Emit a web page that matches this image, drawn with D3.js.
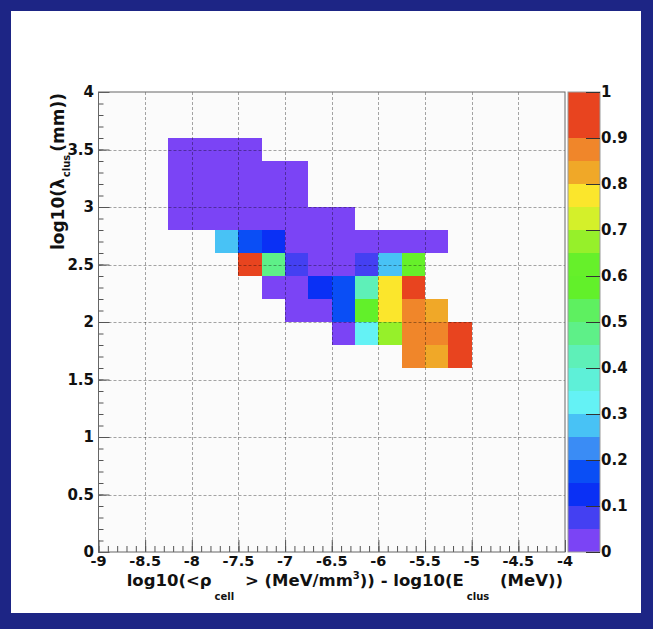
<!DOCTYPE html>
<html>
<head>
<meta charset="utf-8">
<script src="https://cdn.jsdelivr.net/npm/d3@7/dist/d3.min.js"></script>
<style>
  html, body { margin: 0; padding: 0; background: #1d2585; }
  svg { display: block; }
  text { font-family: "DejaVu Sans", "Liberation Sans", sans-serif; font-weight: bold; fill: #111; }
</style>
</head>
<body>
<script>
// Axis ranges and tick values
const xDomain = [-9, -4];
const yDomain = [0, 4];
const zDomain = [0, 1];
const xTickValues = [-9, -8.5, -8, -7.5, -7, -6.5, -6, -5.5, -5, -4.5, -4];
const yTickValues = [0, 0.5, 1, 1.5, 2, 2.5, 3, 3.5, 4];
const zTickValues = [0, 0.1, 0.2, 0.3, 0.4, 0.5, 0.6, 0.7, 0.8, 0.9, 1];

// Histogram binning (bin widths in data units)
const binWidthX = 0.25;
const binWidthY = 0.2;

// Filled rows: lower y edge, lower x edge of first filled bin, normalised contents
const rowY      = [3.4, 3.2, 3.0, 2.8, 2.6, 2.4, 2.2, 2.0, 1.8, 1.6];
const rowXStart = [-8.25, -8.25, -8.25, -8.25, -7.75, -7.5, -7.25, -7.0, -6.5, -5.75];
const rowValues = [
  [0.02, 0.02, 0.02, 0.02],
  [0.02, 0.02, 0.02, 0.02, 0.02, 0.02],
  [0.02, 0.02, 0.02, 0.02, 0.02, 0.02],
  [0.02, 0.02, 0.02, 0.02, 0.02, 0.02, 0.02, 0.02],
  [0.27, 0.17, 0.12, 0.02, 0.02, 0.02, 0.02, 0.02, 0.02, 0.02],
  [0.96, 0.48, 0.07, 0.02, 0.02, 0.07, 0.27, 0.62],
  [0.02, 0.02, 0.12, 0.17, 0.42, 0.77, 0.93],
  [0.02, 0.02, 0.17, 0.57, 0.77, 0.87, 0.82],
  [0.02, 0.32, 0.67, 0.87, 0.87, 0.95],
  [0.87, 0.82, 0.95]
];

// 20 contour levels of the colour palette
const palette = ["#7b44f5", "#4440f2", "#0a30f5", "#0a4ef5", "#3a8cf5",
                 "#48c2f5", "#64f2f5", "#5ef0d8", "#5ef0b8", "#5ef088",
                 "#5ef060", "#62f02a", "#66f02a", "#96f02a", "#d4f02a",
                 "#fbe62c", "#f0a828", "#f0862a", "#e8441f", "#e8441f"];

const W = 653, H = 629;
const plot = { left: 98.5, right: 565, top: 92, bottom: 552 };
const bar = { left: 568, right: 600 };

const svg = d3.select("body").append("svg").attr("width", W).attr("height", H);

// Canvas: navy frame with white pad
svg.append("rect").attr("width", W).attr("height", H).attr("fill", "#1d2585");
svg.append("rect").attr("x", 11).attr("y", 11).attr("width", 630).attr("height", 602).attr("fill", "#ffffff");

const x = d3.scaleLinear().domain(xDomain).range([plot.left, plot.right]);
const y = d3.scaleLinear().domain(yDomain).range([plot.bottom, plot.top]);
const z = d3.scaleLinear().domain(zDomain).range([plot.bottom, plot.top]);
const color = d3.scaleQuantize().domain(zDomain).range(palette);

// Frame background
svg.append("rect")
  .attr("x", plot.left).attr("y", plot.top)
  .attr("width", plot.right - plot.left).attr("height", plot.bottom - plot.top)
  .attr("fill", "#fbfbfb");

// Bins
const cells = [];
rowY.forEach((yl, r) => {
  rowValues[r].forEach((v, k) => {
    cells.push({ x0: rowXStart[r] + k * binWidthX, y0: yl, v });
  });
});
svg.append("g").selectAll("rect").data(cells).join("rect")
  .attr("x", d => x(d.x0))
  .attr("y", d => y(d.y0 + binWidthY))
  .attr("width", d => x(d.x0 + binWidthX) - x(d.x0))
  .attr("height", d => y(d.y0) - y(d.y0 + binWidthY))
  .attr("fill", d => color(d.v))
  .attr("shape-rendering", "crispEdges");

// Dashed grid on major ticks
const grid = svg.append("g").attr("stroke", "#000").attr("stroke-opacity", 0.35)
  .attr("stroke-dasharray", "3,2").attr("stroke-width", 1);
grid.selectAll(".gx").data(xTickValues.slice(1, -1)).join("line")
  .attr("x1", d => Math.round(x(d)) + 0.5).attr("x2", d => Math.round(x(d)) + 0.5)
  .attr("y1", plot.top).attr("y2", plot.bottom);
grid.selectAll(".gy").data(yTickValues.slice(1, -1)).join("line")
  .attr("y1", d => Math.round(y(d)) + 0.5).attr("y2", d => Math.round(y(d)) + 0.5)
  .attr("x1", plot.left).attr("x2", plot.right);

const fmt = d => String(+d.toFixed(2));

// X axis: ticks pointing into the frame
const xMinor = d3.range(-9, -4.0001, 0.1).map(v => +v.toFixed(2));
const xAxis = d3.axisTop(x).tickValues(xMinor).tickSize(6).tickFormat("");
const xg = svg.append("g").attr("transform", `translate(0,${plot.bottom})`).call(xAxis);
xg.select(".domain").remove();
xg.selectAll("line").attr("stroke", "#555");
const xMajor = d3.axisTop(x).tickValues(xTickValues).tickSize(12).tickFormat("");
const xmg = svg.append("g").attr("transform", `translate(0,${plot.bottom})`).call(xMajor);
xmg.select(".domain").remove();
xmg.selectAll("line").attr("stroke", "#555");

svg.append("g").selectAll("text").data(xTickValues).join("text")
  .attr("x", d => x(d)).attr("y", 566)
  .attr("text-anchor", "middle").attr("font-size", 14.5)
  .text(fmt);

// Y axis
const yMinor = d3.range(0, 4.0001, 0.1).map(v => +v.toFixed(2));
const yAxis = d3.axisRight(y).tickValues(yMinor).tickSize(5).tickFormat("");
const yg = svg.append("g").attr("transform", `translate(${plot.left},0)`).call(yAxis);
yg.select(".domain").remove();
yg.selectAll("line").attr("stroke", "#555");
const yMajor = d3.axisRight(y).tickValues(yTickValues).tickSize(11).tickFormat("");
const ymg = svg.append("g").attr("transform", `translate(${plot.left},0)`).call(yMajor);
ymg.select(".domain").remove();
ymg.selectAll("line").attr("stroke", "#555");

svg.append("g").selectAll("text").data(yTickValues).join("text")
  .attr("x", 94).attr("y", d => y(d)).attr("dy", "0.36em")
  .attr("text-anchor", "end").attr("font-size", 15)
  .text(fmt);

// Frame
svg.append("rect")
  .attr("x", plot.left).attr("y", plot.top)
  .attr("width", plot.right - plot.left).attr("height", plot.bottom - plot.top)
  .attr("fill", "none").attr("stroke", "#666").attr("stroke-width", 1);

// X axis title with sub/superscripts
const xt = svg.append("text").attr("x", 563).attr("y", 586)
  .attr("text-anchor", "end").attr("font-size", 16.5);
xt.append("tspan").text("log10(<ρ");
xt.append("tspan").attr("dy", 14).attr("dx", 3).attr("font-size", 10).text("cell");
xt.append("tspan").attr("dy", -14).attr("dx", 5).text(" > (MeV/mm");
xt.append("tspan").attr("dy", -7).attr("font-size", 10).text("3");
xt.append("tspan").attr("dy", 7).text(")) - log10(E");
xt.append("tspan").attr("dy", 14).attr("dx", 3).attr("font-size", 10).text("clus");
xt.append("tspan").attr("dy", -14).attr("dx", 5).text(" (MeV))");

// Y axis title
const yt = svg.append("text").attr("transform", "translate(64,93) rotate(-90)")
  .attr("text-anchor", "end").attr("font-size", 17);
yt.append("tspan").text("log10(λ");
yt.append("tspan").attr("dy", 6).attr("dx", 1).attr("font-size", 10).text("clus");
yt.append("tspan").attr("dy", -6).attr("dx", 3).text("(mm))");

// Colour scale
const levels = d3.range(palette.length).map(i => i / palette.length);
svg.append("g").selectAll("rect").data(levels).join("rect")
  .attr("x", bar.left).attr("width", bar.right - bar.left)
  .attr("y", d => z(d + 1 / palette.length))
  .attr("height", d => z(d) - z(d + 1 / palette.length))
  .attr("fill", d => color(d + 0.5 / palette.length))
  .attr("shape-rendering", "crispEdges");
svg.append("rect").attr("x", bar.left).attr("y", plot.top)
  .attr("width", bar.right - bar.left).attr("height", plot.bottom - plot.top)
  .attr("fill", "none").attr("stroke", "#999");

const zAxis = d3.axisLeft(z).tickValues(zTickValues).tickSize(14).tickFormat("");
const zg = svg.append("g").attr("transform", `translate(${bar.right},0)`).call(zAxis);
zg.select(".domain").remove();
zg.selectAll("line").attr("stroke", "#333");

svg.append("g").selectAll("text").data(zTickValues).join("text")
  .attr("x", 601).attr("y", d => z(d)).attr("dy", "0.36em")
  .attr("font-size", 15)
  .text(fmt);
</script>
</body>
</html>
